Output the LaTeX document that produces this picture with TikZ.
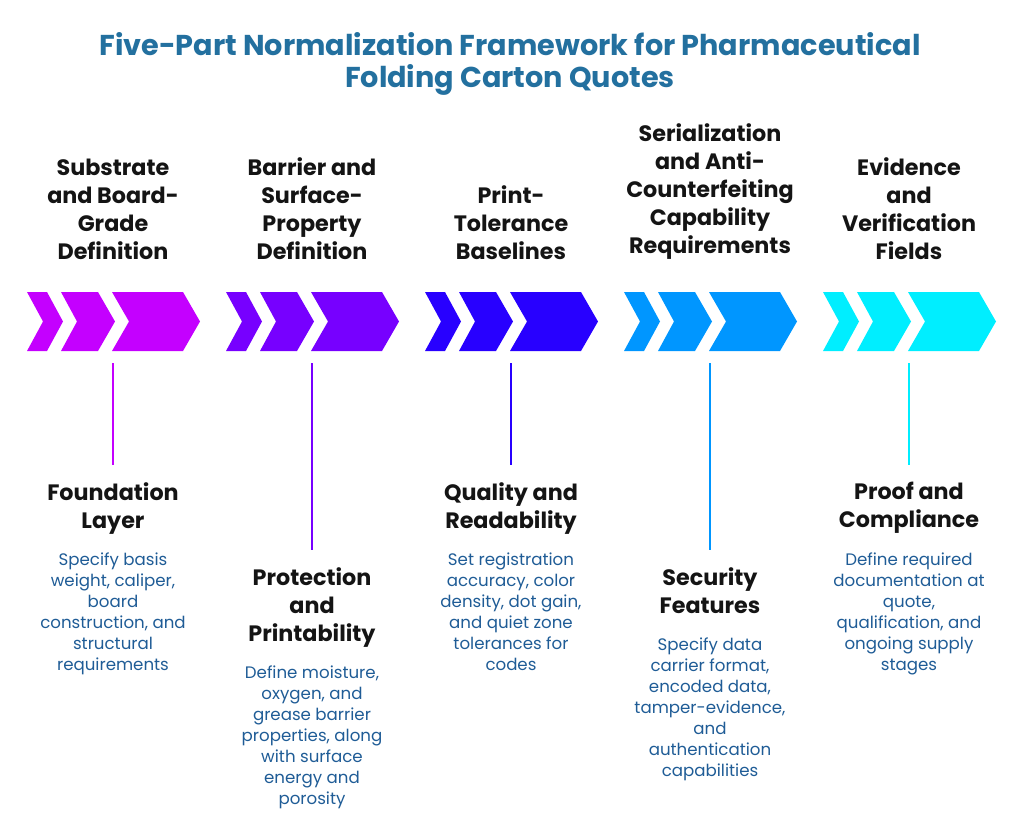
\documentclass[tikz,border=0pt]{standalone}
\usepackage{fontspec}
\setmainfont{Poppins}
\definecolor{titleblue}{HTML}{23709F}
\definecolor{bodyblue}{HTML}{1F5C96}
\definecolor{headblack}{HTML}{141414}
\definecolor{cA}{HTML}{C400FF}
\definecolor{cB}{HTML}{7700FF}
\definecolor{cC}{HTML}{2800FF}
\definecolor{cD}{HTML}{0096FF}
\definecolor{cE}{HTML}{00EEFF}
\tikzset{
    head/.style={font=\fontsize{19}{24}\selectfont\bfseries, text=headblack, align=center, inner sep=0pt},
    body/.style={font=\fontsize{14.2}{17.8}\selectfont, text=bodyblue, align=center, inner sep=0pt},
    stem/.style={line width=1.4pt},
}
\newcommand{\chevrons}[2]{%
    \fill[#2] (#1,292) -- ++(20,0) -- ++(16,29.5) -- ++(-16,29.5) -- ++(-20,0) -- ++(16,-29.5) -- cycle;
    \fill[#2] (#1+34,292) -- ++(37,0) -- ++(17,29.5) -- ++(-17,29.5) -- ++(-37,0) -- ++(16,-29.5) -- cycle;
    \fill[#2] (#1+85,292) -- ++(71,0) -- ++(17,29.5) -- ++(-17,29.5) -- ++(-71,0) -- ++(17,-29.5) -- cycle;
}
\begin{document}
\begin{tikzpicture}[x=0.03cm,y=-0.03cm]
    \useasboundingbox (0,0) rectangle (1024,827);

    % title
    \node[font=\fontsize{24.5}{27.5}\selectfont\bfseries, text=titleblue, align=center, anchor=north] (title) at (510,28)
        {Five-Part Normalization Framework for Pharmaceutical\\Folding Carton Quotes};

    % chevron rows
    \chevrons{27}{cA}
    \chevrons{226}{cB}
    \chevrons{425}{cC}
    \chevrons{624}{cD}
    \chevrons{823}{cE}

    % upper headings
    \node[head, anchor=south] (top1) at (113,260) {Substrate\\and Board-\\Grade\\Definition};
    \node[head, anchor=south] (top2) at (312,260) {Barrier and\\Surface-\\Property\\Definition};
    \node[head, anchor=south] (top3) at (511,260) {Print-\\Tolerance\\Baselines};
    \node[head, anchor=south] (top4) at (710,260) {Serialization\\and Anti-\\Counterfeiting\\Capability\\Requirements};
    \node[head, anchor=south] (top5) at (909,260) {Evidence\\and\\Verification\\Fields};

    % lower headings
    \node[head, anchor=north] (low1) at (113,482) {Foundation\\Layer};
    \node[head, anchor=north] (low2) at (312,567) {Protection\\and\\Printability};
    \node[head, anchor=north] (low3) at (511,482) {Quality and\\Readability};
    \node[head, anchor=north] (low4) at (710,567) {Security\\Features};
    \node[head, anchor=north] (low5) at (909,482) {Proof and\\Compliance};

    % connectors
    \foreach \n/\x/\c in {1/113/cA, 2/312/cB, 3/511/cC, 4/710/cD, 5/909/cE} {
        \coordinate (stem\n) at (\x,363);
        \draw[stem, \c] (stem\n) -- ([yshift=0.5cm]low\n.north);
    }

    % descriptions
    \node[body, anchor=north] (txt1) at (113,553) {Specify basis\\weight, caliper,\\board\\construction, and\\structural\\requirements};
    \node[body, anchor=north] (txt2) at (312,666) {Define moisture,\\oxygen, and\\grease barrier\\properties, along\\with surface\\energy and\\porosity};
    \node[body, anchor=north] (txt3) at (511,553) {Set registration\\accuracy, color\\density, dot gain,\\and quiet zone\\tolerances for\\codes};
    \node[body, anchor=north] (txt4) at (710,638) {Specify data\\carrier format,\\encoded data,\\tamper-evidence,\\and\\authentication\\capabilities};
    \node[body, anchor=north] (txt5) at (909,553) {Define required\\documentation at\\quote,\\qualification, and\\ongoing supply\\stages};
\end{tikzpicture}
\end{document}
